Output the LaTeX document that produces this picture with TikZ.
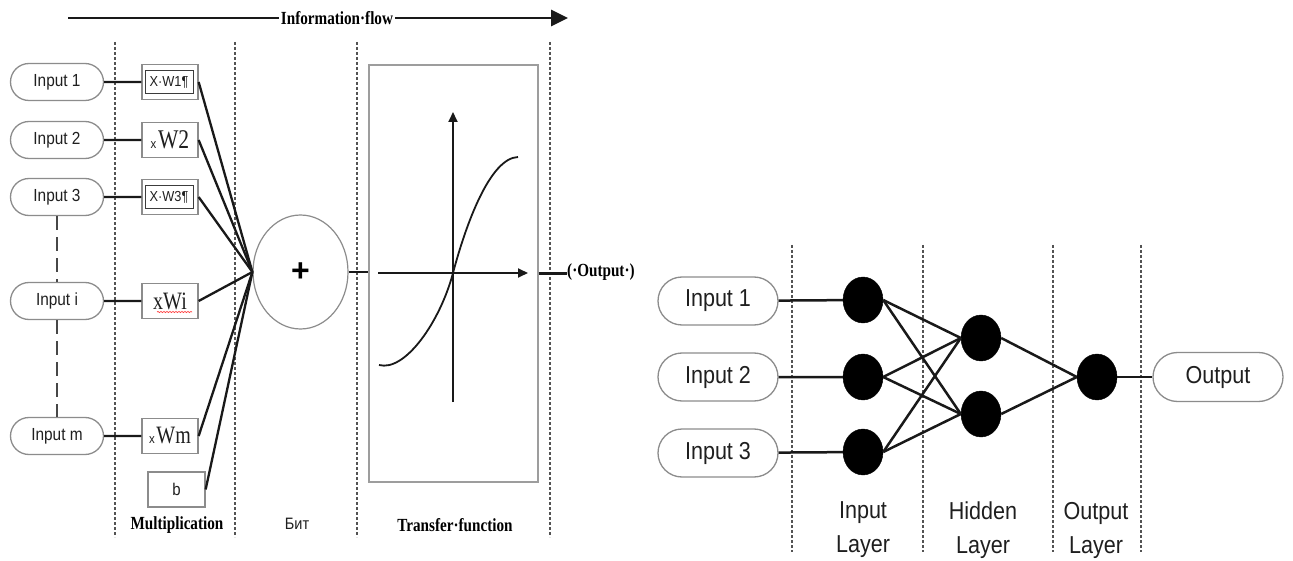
\documentclass[tikz,border=0pt]{standalone}
\usepackage{fontspec}
\setmainfont{Liberation Serif}
\setsansfont{Liberation Sans}
\newfontfamily\condserif[FakeStretch=0.82]{Liberation Serif}
\newfontfamily\narrowserif[FakeStretch=0.8]{Liberation Serif}
\newfontfamily\condsans[FakeStretch=0.88]{Liberation Sans}
\usetikzlibrary{shapes.misc,shapes.geometric,arrows.meta,decorations.pathmorphing}

\definecolor{frame}{gray}{0.55}
\definecolor{ink}{gray}{0.1}
\definecolor{textgray}{gray}{0.12}

\begin{document}
\begin{tikzpicture}[x=1pt,y=-1pt,
  pill/.style={draw=frame, line width=1.3pt, rounded rectangle, inner sep=0pt, text=textgray},
  smallpill/.style={pill, minimum width=93pt, minimum height=37pt, font=\condsans\fontsize{17.5}{20}\selectfont},
  bigpill/.style={pill, minimum width=120pt, minimum height=48pt, font=\condsans\fontsize{24.5}{28}\selectfont},
  mulbox/.style={draw=frame, line width=1.3pt, minimum width=56pt, minimum height=35pt, inner sep=0pt, text=textgray},
  innerframe/.style={draw=ink!85, line width=1pt, minimum width=48pt, minimum height=23pt, inner sep=0pt, text=textgray, font=\condsans\fontsize{14.5}{16}\selectfont},
  wire/.style={ink, line width=2.3pt},
  netwire/.style={ink, line width=2.5pt},
  divider/.style={ink!75, line width=1.2pt, dash pattern=on 3pt off 2pt},
  ellipsis/.style={ink!80, line width=2pt, dash pattern=on 14pt off 7pt},
  neuron/.style={ellipse, fill=black, draw=black, minimum width=40pt, minimum height=46pt, inner sep=0pt},
  headline/.style={text=black, font=\condserif\bfseries\fontsize{18.5}{21}\selectfont},
  layerlabel/.style={align=center, text=textgray, font=\condsans\fontsize{24.5}{34}\selectfont},
  axis/.style={ink, line width=1.8pt, -{Triangle[length=10pt,width=9pt]}},
]
\path[fill=white, use as bounding box] (0,0) rectangle (1293,561);

% ---------------- single neuron ----------------
% information flow arrow
\coordinate (fs) at (68,18);
\coordinate (fe) at (568,18);
\draw[ink, line width=2.8pt, -{Triangle[length=17pt,width=16pt]}] (fs) -- (fe);
\node[headline, fill=white, inner sep=1.5pt] (flow) at (337,18) {Information·flow};

% column separators
\foreach \x in {115,235,357,550}
  \draw[divider] (\x,42) -- (\x,537);

% inputs
\node[smallpill] (in1) at (57,82)  {Input 1};
\node[smallpill] (in2) at (57,140) {Input 2};
\node[smallpill] (in3) at (57,197) {Input 3};
\node[smallpill] (ini) at (57,301) {Input i};
\node[smallpill] (inm) at (57,436) {Input m};
\draw[ellipsis] (in3.south) -- (ini.north);
\draw[ellipsis] (ini.south) -- (inm.north);

% weights
\node[mulbox] (w1) at (170,82) {};
\node[innerframe] (w1f) at (169,82) {X·W1¶};
\node[mulbox] (w2) at (170,140) {{\condsans\fontsize{13}{14}\selectfont x}\,{\narrowserif\fontsize{27}{28}\selectfont W2}};
\node[mulbox] (w3) at (170,197) {};
\node[innerframe] (w3f) at (169,197) {X·W3¶};
\node[mulbox] (wi) at (170,301) {\narrowserif\fontsize{25}{28}\selectfont xWi};
\node[mulbox] (wm) at (170,436) {{\condsans\fontsize{13}{14}\selectfont x}\,{\narrowserif\fontsize{25}{28}\selectfont Wm}};
\node[mulbox, minimum width=57pt] (wb) at (176.5,489.5) {\condsans\fontsize{17}{18}\selectfont b};
\draw[red!75, line width=0.7pt, decorate, decoration={snake, amplitude=0.6pt, segment length=3pt}]
  ([xshift=-13pt,yshift=-11pt]wi.center) -- ([xshift=22pt,yshift=-11pt]wi.center);

\foreach \a/\b in {in1/w1, in2/w2, in3/w3, ini/wi, inm/wm}
  \draw[wire] (\a) -- (\b);

% summation
\node[ellipse, draw=frame, line width=1.2pt, minimum width=95pt, minimum height=114pt, inner sep=0pt] (sum) at (300.5,272)
  {\sffamily\bfseries\fontsize{32}{32}\selectfont +};
\coordinate (conv) at (sum.west);
\foreach \b in {w1,w2,w3,wi,wm,wb}
  \draw[wire] (\b.east) -- (conv);

% transfer function
\node[draw=frame!85, line width=1.2pt, minimum width=169pt, minimum height=417pt, inner sep=0pt] (tf) at (453.5,273.5) {};
\draw[wire] (sum.east) -- (sum.east -| tf.west);
\draw[axis] (378,273) -- (528,273);
\draw[axis] (453,402) -- (453,112);
\draw[ink, line width=1.8pt] (379,365) .. controls (405,372) and (440,322) .. (453,273)
  .. controls (466,224) and (490,158) .. (518,157);

% output
\node[headline, anchor=base west, inner sep=0pt] (outlbl) at (567,277) {(·Output·)};
\draw[wire] (tf.east) -- (tf.east -| outlbl.west);

% column captions
\node[headline] (mlbl) at (177,525) {Multiplication};
\node[text=textgray, font=\condsans\fontsize{16.5}{18}\selectfont] (blbl) at (297,524) {Бит};
\node[headline] (tlbl) at (455,525) {Transfer·function};

% ---------------- small network ----------------
\foreach \x in {792,923,1053,1141}
  \draw[divider] (\x,245) -- (\x,552);

\node[bigpill] (r1) at (718,301) {Input 1};
\node[bigpill] (r2) at (718,377) {Input 2};
\node[bigpill] (r3) at (718,453) {Input 3};

\node[neuron] (n1) at (863,300) {};
\node[neuron] (n2) at (863,377) {};
\node[neuron] (n3) at (863,452) {};
\node[neuron] (h1) at (981,338) {};
\node[neuron] (h2) at (981,414) {};
\node[neuron] (o1) at (1097,377) {};

\node[bigpill, minimum width=130pt, minimum height=49pt] (rout) at (1218,377) {Output};

\foreach \i in {1,2,3}
  \draw[netwire] (r\i) -- (n\i);
\foreach \i in {1,2,3}
  \foreach \j in {1,2}
    \draw[netwire] (n\i.east) -- (h\j.west);
\foreach \j in {1,2}
  \draw[netwire] (h\j.east) -- (o1.west);
\draw[netwire] (o1) -- (rout);

\node[layerlabel] (lin)  at (863,530)  {Input\\Layer};
\node[layerlabel] (lhid) at (983,530)  {Hidden\\Layer};
\node[layerlabel] (lout) at (1096,530) {Output\\Layer};
\end{tikzpicture}
\end{document}
